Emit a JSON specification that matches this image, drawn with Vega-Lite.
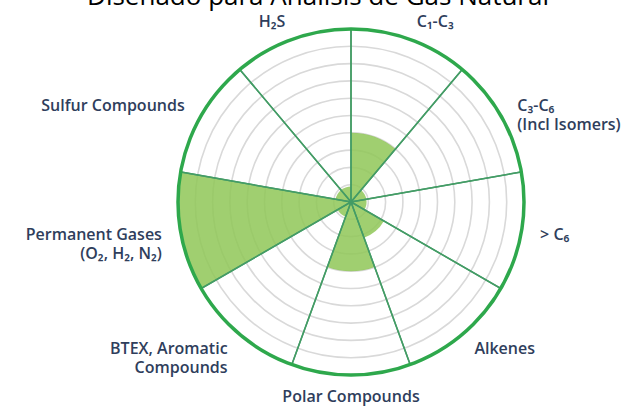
{
  "$schema": "https://vega.github.io/schema/vega-lite/v6.json",
  "width": 554,
  "height": 404,
  "autosize": "none",
  "padding": {"left": 74, "top": 0, "right": 0, "bottom": 3},
  "background": "white",
  "config": {"view": {"stroke": null}},
  "title": {
    "text": "Diseñado para Análisis de Gas Natural",
    "font": "Open Sans",
    "fontSize": 26,
    "fontWeight": "normal",
    "color": "#000000",
    "anchor": "middle",
    "frame": "group",
    "baseline": "alphabetic",
    "dx": -33,
    "dy": 35
  },
  "datasets": {
    "sectors": [
      {"idx": 1, "label": "C₁-C₃", "value": 0.4, "share": 1},
      {"idx": 2, "label": "C₃-C₆\n(Incl Isomers)", "value": 0.09, "share": 1},
      {"idx": 3, "label": "> C₆", "value": 0.09, "share": 1},
      {"idx": 4, "label": "Alkenes", "value": 0.22, "share": 1},
      {"idx": 5, "label": "Polar Compounds", "value": 0.4, "share": 1},
      {"idx": 6, "label": "BTEX, Aromatic\nCompounds", "value": 0.09, "share": 1},
      {"idx": 7, "label": "Permanent Gases\n(O₂, H₂, N₂)", "value": 1.0, "share": 1},
      {"idx": 8, "label": "Sulfur Compounds", "value": 0.09, "share": 1},
      {"idx": 9, "label": "H₂S", "value": 0.09, "share": 1}
    ],
    "rings": [
      {"r": 0.1}, {"r": 0.2}, {"r": 0.3}, {"r": 0.4}, {"r": 0.5},
      {"r": 0.6}, {"r": 0.7}, {"r": 0.8}, {"r": 0.9}
    ],
    "outer": [{"r": 1.0}]
  },
  "layer": [
    {
      "data": {"name": "outer"},
      "mark": {"type": "arc", "fill": "white", "stroke": null},
      "encoding": {
        "theta": {"value": 0},
        "theta2": {"value": 6.2832},
        "radius": {"field": "r", "type": "quantitative", "stack": null, "scale": {"type": "linear", "domain": [0, 1], "range": [0, 173]}}
      }
    },
    {
      "data": {"name": "rings"},
      "mark": {"type": "arc", "fill": null, "stroke": "#d9d9d9", "strokeWidth": 1.6},
      "encoding": {
        "theta": {"value": 0},
        "theta2": {"value": 6.2832},
        "radius": {"field": "r", "type": "quantitative", "stack": null}
      }
    },
    {
      "data": {"name": "sectors"},
      "transform": [
        {"stack": "share", "groupby": [], "sort": [{"field": "idx", "order": "ascending"}], "as": ["a0", "a1"]}
      ],
      "mark": {"type": "arc", "fill": "#8fc757", "fillOpacity": 0.85, "stroke": null},
      "encoding": {
        "theta": {"field": "a0", "type": "quantitative", "stack": null, "scale": {"domain": [0, 9]}},
        "theta2": {"field": "a1"},
        "radius": {"field": "value", "type": "quantitative", "stack": null}
      }
    },
    {
      "data": {"name": "sectors"},
      "mark": {"type": "arc", "fill": null, "stroke": "#449c66", "strokeWidth": 1.5},
      "encoding": {
        "theta": {"field": "share", "type": "quantitative", "stack": true},
        "order": {"field": "idx", "type": "quantitative"},
        "radius": {"value": 173}
      }
    },
    {
      "data": {"name": "outer"},
      "mark": {"type": "arc", "fill": null, "stroke": "#2ea84c", "strokeWidth": 3.5},
      "encoding": {
        "theta": {"value": 0},
        "theta2": {"value": 6.2832},
        "radius": {"field": "r", "type": "quantitative", "stack": null}
      }
    },
    {
      "data": {"name": "sectors"},
      "mark": {"type": "text", "align": "left", "baseline": "middle", "lineBreak": "\n", "font": "Open Sans", "fontSize": 16, "fontWeight": 600, "color": "#2f3e5c", "lineHeight": 19},
      "encoding": {
        "theta": {"field": "share", "type": "quantitative", "stack": true},
        "order": {"field": "idx", "type": "quantitative"},
        "radius": {"value": 192},
        "text": {"condition": {"test": "datum.idx <= 4", "field": "label"}, "value": ""}
      }
    },
    {
      "data": {"name": "sectors"},
      "mark": {"type": "text", "align": "center", "baseline": "middle", "lineBreak": "\n", "font": "Open Sans", "fontSize": 16, "fontWeight": 600, "color": "#2f3e5c", "lineHeight": 19},
      "encoding": {
        "theta": {"field": "share", "type": "quantitative", "stack": true},
        "order": {"field": "idx", "type": "quantitative"},
        "radius": {"value": 195},
        "text": {"condition": {"test": "datum.idx == 5", "field": "label"}, "value": ""}
      }
    },
    {
      "data": {"name": "sectors"},
      "mark": {"type": "text", "align": "right", "baseline": "middle", "lineBreak": "\n", "font": "Open Sans", "fontSize": 16, "fontWeight": 600, "color": "#2f3e5c", "lineHeight": 19},
      "encoding": {
        "theta": {"field": "share", "type": "quantitative", "stack": true},
        "order": {"field": "idx", "type": "quantitative"},
        "radius": {"value": 192},
        "text": {"condition": {"test": "datum.idx >= 6", "field": "label"}, "value": ""}
      }
    }
  ]
}
